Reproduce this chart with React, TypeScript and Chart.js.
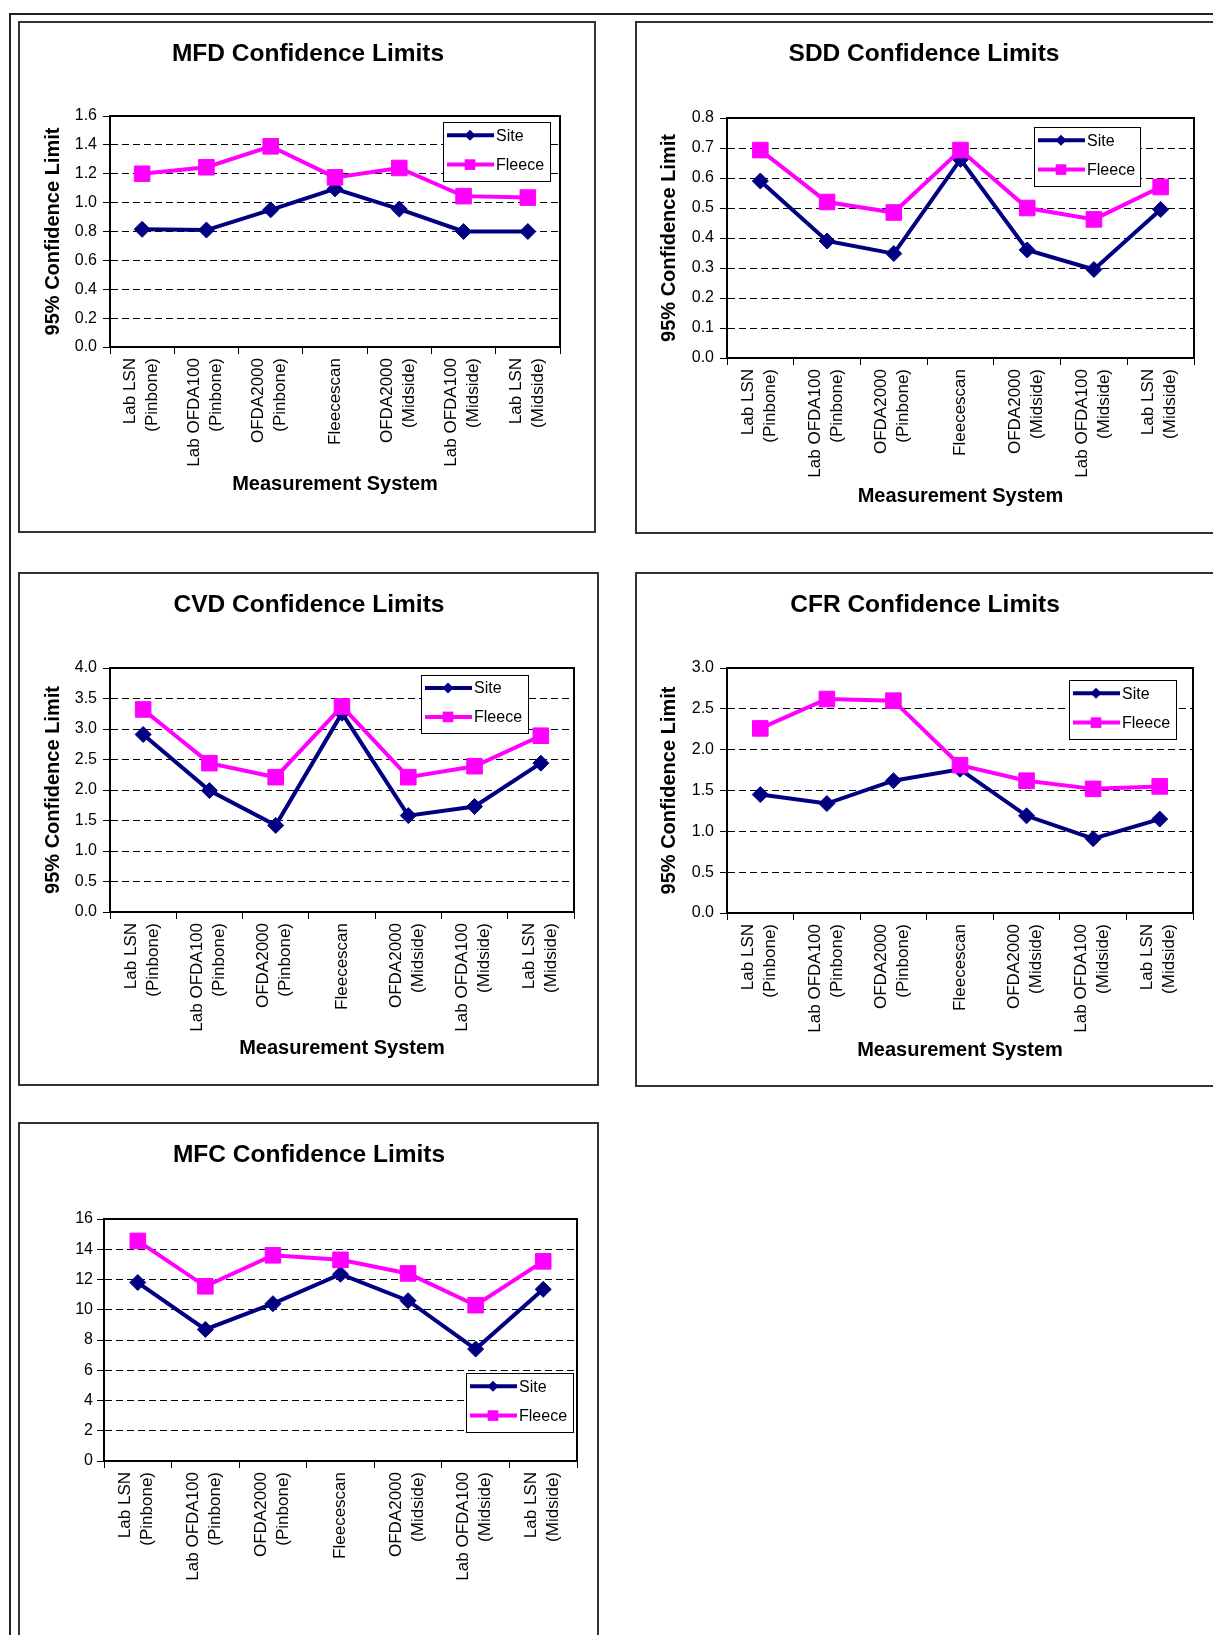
import React, { useEffect, useRef } from "react";
import { Chart, registerables } from "chart.js";

Chart.register(...registerables);

const FONT = "'Liberation Sans', Arial, Helvetica, sans-serif";
const NAVY = "#000080";
const MAGENTA = "#FF00FF";

// ---------- data ----------
const categories: (string | string[])[] = [
  ["Lab LSN", "(Pinbone)"],
  ["Lab OFDA100", "(Pinbone)"],
  ["OFDA2000", "(Pinbone)"],
  "Fleecescan",
  ["OFDA2000", "(Midside)"],
  ["Lab OFDA100", "(Midside)"],
  ["Lab LSN", "(Midside)"],
];
const seriesNames = ["Site", "Fleece"];
const yAxisTitle = "95% Confidence Limit";
const xAxisTitle = "Measurement System";

const mfdSite = [0.815, 0.81, 0.95, 1.095, 0.955, 0.8, 0.8];
const mfdFleece = [1.2, 1.245, 1.39, 1.175, 1.24, 1.045, 1.035];
const mfdTicks = [0, 0.2, 0.4, 0.6, 0.8, 1.0, 1.2, 1.4, 1.6];

const sddSite = [0.59, 0.39, 0.348, 0.662, 0.36, 0.295, 0.495];
const sddFleece = [0.693, 0.52, 0.485, 0.693, 0.5, 0.462, 0.57];
const sddTicks = [0, 0.1, 0.2, 0.3, 0.4, 0.5, 0.6, 0.7, 0.8];

const cvdSite = [2.91, 1.99, 1.42, 3.26, 1.58, 1.73, 2.44];
const cvdFleece = [3.32, 2.44, 2.21, 3.37, 2.21, 2.39, 2.89];
const cvdTicks = [0, 0.5, 1.0, 1.5, 2.0, 2.5, 3.0, 3.5, 4.0];

const cfrSite = [1.45, 1.34, 1.62, 1.76, 1.19, 0.91, 1.15];
const cfrFleece = [2.26, 2.62, 2.6, 1.81, 1.62, 1.52, 1.55];
const cfrTicks = [0, 0.5, 1.0, 1.5, 2.0, 2.5, 3.0];

const mfcSite = [11.8, 8.7, 10.4, 12.35, 10.6, 7.4, 11.35];
const mfcFleece = [14.55, 11.55, 13.6, 13.3, 12.4, 10.3, 13.2];
const mfcTicks = [0, 2, 4, 6, 8, 10, 12, 14, 16];

// ---------- layout (page coordinates) ----------
type Rect = { x: number; y: number; w: number; h: number };
type Panel = {
  title: string;
  site: number[];
  fleece: number[];
  yTicks: number[];
  decimals: number;
  box: Rect;
  plot: { l: number; t: number; r: number; b: number };
  titleX: number;
  titleY: number;
  xTitleY: number | null;
  yTitleX: number | null;
  legend: Rect;
  tickPad: number;
};

const panels: Panel[] = [
  {
    title: "MFD Confidence Limits",
    site: mfdSite, fleece: mfdFleece, yTicks: mfdTicks, decimals: 1,
    box: { x: 18, y: 21, w: 578, h: 512 },
    plot: { l: 110, t: 116, r: 560, b: 347 },
    titleX: 308, titleY: 54, xTitleY: 484, yTitleX: 53,
    legend: { x: 443, y: 122, w: 108, h: 60 },
    tickPad: 6,
  },
  {
    title: "SDD Confidence Limits",
    site: sddSite, fleece: sddFleece, yTicks: sddTicks, decimals: 1,
    box: { x: 635, y: 21, w: 600, h: 513 },
    plot: { l: 727, t: 118, r: 1194, b: 358 },
    titleX: 924, titleY: 54, xTitleY: 496, yTitleX: 669,
    legend: { x: 1034, y: 127, w: 107, h: 60 },
    tickPad: 6,
  },
  {
    title: "CVD Confidence Limits",
    site: cvdSite, fleece: cvdFleece, yTicks: cvdTicks, decimals: 1,
    box: { x: 18, y: 572, w: 581, h: 514 },
    plot: { l: 110, t: 668, r: 574, b: 912 },
    titleX: 309, titleY: 605, xTitleY: 1048, yTitleX: 53,
    legend: { x: 421, y: 675, w: 108, h: 59 },
    tickPad: 6,
  },
  {
    title: "CFR Confidence Limits",
    site: cfrSite, fleece: cfrFleece, yTicks: cfrTicks, decimals: 1,
    box: { x: 635, y: 572, w: 600, h: 515 },
    plot: { l: 727, t: 668, r: 1193, b: 913 },
    titleX: 925, titleY: 605, xTitleY: 1050, yTitleX: 669,
    legend: { x: 1069, y: 680, w: 108, h: 60 },
    tickPad: 6,
  },
  {
    title: "MFC Confidence Limits",
    site: mfcSite, fleece: mfcFleece, yTicks: mfcTicks, decimals: 0,
    box: { x: 18, y: 1122, w: 581, h: 530 },
    plot: { l: 104, t: 1219, r: 577, b: 1461 },
    titleX: 309, titleY: 1155, xTitleY: null, yTitleX: null,
    legend: { x: 466, y: 1373, w: 108, h: 60 },
    tickPad: 4,
  },
];

function drawMarker(ctx: CanvasRenderingContext2D, style: string, x: number, y: number, r: number) {
  ctx.beginPath();
  if (style === "rect") {
    const s = r * Math.SQRT1_2;
    ctx.rect(x - s, y - s, 2 * s, 2 * s);
  } else {
    ctx.moveTo(x - r, y);
    ctx.lineTo(x, y - r);
    ctx.lineTo(x + r, y);
    ctx.lineTo(x, y + r);
    ctx.closePath();
  }
  ctx.fill();
}

function buildChart(canvas: HTMLCanvasElement, p: Panel) {
  const W = p.box.w;
  const H = p.box.h;
  const ox = p.box.x;
  const oy = p.box.y;
  const plotL = p.plot.l - ox;
  const plotT = p.plot.t - oy;
  const plotR = p.plot.r - ox;
  const plotB = p.plot.b - oy;
  const yMin = p.yTicks[0];
  const yMax = p.yTicks[p.yTicks.length - 1];
  const labels = categories.map((c) => (Array.isArray(c) ? c : ["", c]));

  const framePlugin = {
    id: "frame",
    beforeDatasetsDraw(chart: any) {
      const { ctx, chartArea: a } = chart;
      ctx.save();
      ctx.strokeStyle = "#000";
      ctx.lineWidth = 2;
      ctx.strokeRect(a.left, a.top, a.right - a.left, a.bottom - a.top);
      ctx.restore();
    },
  };

  const titlePlugin = {
    id: "panelTitle",
    afterDraw(chart: any) {
      const ctx = chart.ctx;
      ctx.save();
      ctx.font = `bold 24.5px ${FONT}`;
      ctx.fillStyle = "#000";
      ctx.textAlign = "center";
      ctx.textBaseline = "middle";
      ctx.fillText(p.title, p.titleX - ox, p.titleY - oy);
      ctx.restore();
    },
  };

  const legendPlugin = {
    id: "boxLegend",
    afterDatasetsDraw(chart: any) {
      const ctx = chart.ctx;
      const x = p.legend.x - ox;
      const y = p.legend.y - oy;
      const w = p.legend.w;
      const h = p.legend.h;
      ctx.save();
      ctx.fillStyle = "#fff";
      ctx.fillRect(x, y, w, h);
      ctx.strokeStyle = "#000";
      ctx.lineWidth = 1;
      ctx.strokeRect(x + 0.5, y + 0.5, w - 1, h - 1);
      chart.data.datasets.forEach((ds: any, i: number) => {
        const cy = y + h * (i === 0 ? 0.22 : 0.71);
        ctx.strokeStyle = ds.borderColor;
        ctx.lineWidth = 4;
        ctx.beginPath();
        ctx.moveTo(x + 4, cy);
        ctx.lineTo(x + 51, cy);
        ctx.stroke();
        ctx.fillStyle = ds.backgroundColor;
        drawMarker(ctx, ds.pointStyle, x + 27, cy, ds.pointStyle === "rect" ? 7.5 : 5.5);
        ctx.fillStyle = "#000";
        ctx.font = `16px ${FONT}`;
        ctx.textAlign = "left";
        ctx.textBaseline = "middle";
        ctx.fillText(ds.label, x + 53, cy + 1);
      });
      ctx.restore();
    },
  };

  return new Chart(canvas, {
    type: "line",
    data: {
      labels,
      datasets: [
        {
          label: seriesNames[0],
          data: p.site,
          borderColor: NAVY,
          backgroundColor: NAVY,
          pointBackgroundColor: NAVY,
          pointBorderColor: NAVY,
          borderWidth: 4,
          pointStyle: "rectRot",
          pointRadius: 8,
          pointBorderWidth: 1,
          tension: 0,
          order: 1,
        },
        {
          label: seriesNames[1],
          data: p.fleece,
          borderColor: MAGENTA,
          backgroundColor: MAGENTA,
          pointBackgroundColor: MAGENTA,
          pointBorderColor: MAGENTA,
          borderWidth: 4,
          pointStyle: "rect",
          pointRadius: 11,
          pointBorderWidth: 1,
          tension: 0,
          order: 0,
        },
      ],
    },
    options: {
      responsive: false,
      animation: false,
      devicePixelRatio: 1,
      events: [],
      layout: { padding: { left: 0, top: plotT, right: W - plotR, bottom: 0 } },
      plugins: {
        legend: { display: false },
        tooltip: { enabled: false },
        title: { display: false },
      },
      scales: {
        x: {
          type: "category",
          offset: true,
          ticks: {
            autoSkip: false,
            maxRotation: 90,
            minRotation: 90,
            color: "#000",
            padding: 4,
            labelOffset: -12,
            font: (c: any) => ({
              family: FONT,
              size: 17,
              lineHeight: Array.isArray(categories[c.index]) ? "22px" : "12px",
            }),
          },
          grid: {
            offset: true,
            drawOnChartArea: false,
            drawTicks: true,
            tickLength: 7,
            color: "#000",
            tickColor: "#000",
          },
          border: { display: true, color: "#000", width: 1 },
          title: {
            display: p.xTitleY !== null,
            text: xAxisTitle,
            color: "#000",
            font: { family: FONT, size: 20, weight: "bold", lineHeight: 1.2 },
            padding: { top: 0, bottom: p.xTitleY !== null ? H - (p.xTitleY - oy) - 12 : 0 },
          },
          afterFit: (s: any) => {
            s.height = H - plotB;
          },
        },
        y: {
          type: "linear",
          min: yMin,
          max: yMax,
          afterBuildTicks: (s: any) => {
            s.ticks = p.yTicks.map((v) => ({ value: v }));
          },
          ticks: {
            color: "#000",
            padding: p.tickPad,
            font: { family: FONT, size: 16 },
            callback: (v: any) => Number(v).toFixed(p.decimals),
          },
          grid: {
            color: (c: any) =>
              c.tick && (c.tick.value === yMin || c.tick.value === yMax) ? "rgba(0,0,0,0)" : "#000",
            tickColor: "#000",
            tickLength: 7,
            lineWidth: 1,
            drawTicks: true,
          },
          border: { display: true, color: "#000", width: 1, dash: [7, 4] },
          title: {
            display: p.yTitleX !== null,
            text: yAxisTitle,
            color: "#000",
            font: { family: FONT, size: 20, weight: "bold", lineHeight: 1.2 },
            padding: { top: p.yTitleX !== null ? p.yTitleX - ox - 12 : 0, bottom: 0 },
          },
          afterFit: (s: any) => {
            s.width = plotL;
          },
        },
      },
    } as any,
    plugins: [framePlugin, legendPlugin, titlePlugin],
  });
}

function ChartPanel({ p }: { p: Panel }) {
  const ref = useRef<HTMLCanvasElement | null>(null);
  useEffect(() => {
    if (!ref.current) return;
    const chart = buildChart(ref.current, p);
    return () => chart.destroy();
  }, [p]);
  return (
    <>
      <div
        style={{
          position: "absolute",
          left: p.box.x,
          top: p.box.y,
          width: p.box.w,
          height: p.box.h,
          border: "2px solid #333",
          boxSizing: "border-box",
        }}
      />
      <canvas
        ref={ref}
        width={p.box.w}
        height={p.box.h}
        style={{
          position: "absolute",
          left: p.box.x,
          top: p.box.y,
          width: p.box.w,
          height: p.box.h,
        }}
      />
    </>
  );
}

export default function App() {
  return (
    <div
      style={{
        position: "absolute",
        left: 0,
        top: 0,
        width: 1213,
        height: 1635,
        overflow: "hidden",
        background: "#fff",
      }}
    >
      <div
        style={{
          position: "absolute",
          left: 9,
          top: 13,
          width: 1213,
          height: 1700,
          borderTop: "2px solid #222",
          borderLeft: "2px solid #222",
        }}
      />
      {panels.map((p) => (
        <ChartPanel key={p.title} p={p} />
      ))}
    </div>
  );
}
